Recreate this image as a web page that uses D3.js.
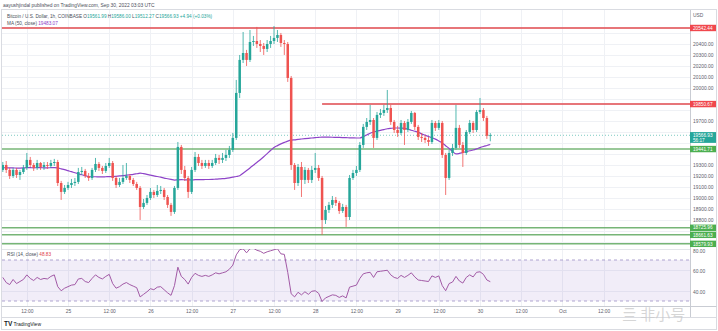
<!DOCTYPE html>
<html><head><meta charset="utf-8">
<script src="https://cdn.jsdelivr.net/npm/d3@7"></script>
<style>
body{margin:0;background:#fff;}
svg{display:block;font-family:"Liberation Sans",Arial,sans-serif;}
</style>
</head><body>
<svg id="c" width="718" height="331"></svg>
<script>
// ---------------- DATA ----------------
const firstCandle = "2022-09-24T05:00:00Z";   // hourly candles
const lastCandle  = "2022-09-30T03:00:00Z";

const opens = [19252,19297,19252,19197,19252,19206,19233,19270,19343,19297,
 19270,19315,19279,19297,19288,19315,19324,19133,19052,19088,
 19115,19133,19143,19233,19243,19197,19179,19252,19306,19270,
 19243,19288,19315,19179,19115,19143,19179,19197,19161,19124,
 19088,18915,18952,18997,19052,19024,19061,19070,19006,18934,
 18870,19088,19461,19252,19179,19052,19252,19370,19315,19288,
 19315,19288,19315,19361,19343,19361,19388,19434,19543,19952,
 20252,20315,20252,20415,20424,20397,20379,20352,20397,20424,
 20452,20479,20406,20397,20088,19297,19133,19279,19161,19252,
 19161,19252,19270,19179,18797,18888,18934,18979,18952,18879,
 18915,18824,19179,19224,19252,19479,19643,19688,19706,19543,
 19752,19770,19797,19815,19688,19615,19588,19679,19615,19688,
 19770,19643,19552,19543,19524,19506,19679,19634,19679,19388,
 19179,19406,19452,19634,19479,19406,19597,19679,19615,19779,
 19797,19724,19561.99];

const highs = [19324,19333,19270,19270,19270,19252,19297,19406,19370,19315,
 19343,19324,19324,19324,19343,19352,19343,19152,19115,19143,
 19170,19179,19270,19279,19261,19224,19270,19361,19324,19288,
 19315,19361,19333,19197,19179,19297,19315,19215,19179,19143,
 19106,18988,19024,19088,19070,19115,19106,19088,19024,18952,
 19106,19506,19479,19288,19197,19279,19415,19397,19343,19343,
 19343,19343,19397,19388,19406,19434,19470,19588,20070,20297,
 20506,20343,20524,20470,20552,20433,20406,20433,20470,20560,
 20524,20497,20433,20415,20106,19315,19306,19324,19279,19270,
 19288,19406,19297,19197,18924,18961,19015,19006,18970,18943,
 18934,19206,19252,19288,19506,19670,19724,19843,19724,19779,
 19806,19843,19979,19843,19706,19652,19706,19697,19715,19788,
 19779,19661,19588,19570,19552,19706,19697,19706,19697,19406,
 19434,19488,19843,19661,19506,19615,19706,19697,19797,19906,
 19815,19743,19586.00];

const lows = [19233,19224,19170,19179,19179,19161,19215,19252,19279,19243,
 19252,19252,19252,19261,19270,19288,19106,18979,19033,19070,
 19088,19106,19124,19206,19179,19152,19161,19233,19243,19215,
 19224,19270,19152,19088,19097,19124,19161,19133,19106,19070,
 18797,18897,18934,18979,18997,19006,19033,18979,18906,18834,
 18852,19070,19215,19152,18997,19033,19233,19288,19261,19270,
 19261,19270,19297,19306,19315,19333,19361,19415,19524,19906,
 20224,20197,20233,20379,20361,20324,20297,20324,20361,20397,
 20415,20370,20297,20052,19252,19070,19106,19006,19124,19133,
 19133,19224,19152,18662,18761,18861,18906,18924,18852,18861,
 18734,18797,19161,19197,19233,19452,19615,19661,19452,19524,
 19724,19743,19770,19661,19588,19552,19570,19479,19597,19670,
 19615,19524,19506,19497,19470,19488,19606,19615,19361,19024,
 19161,19379,19434,19452,19279,19388,19579,19588,19597,19761,
 19697,19534,19512.27];

const closes = [19297,19252,19197,19252,19206,19233,19270,19343,19297,19270,
 19315,19279,19297,19288,19315,19324,19133,19052,19088,19115,
 19133,19143,19233,19243,19197,19179,19252,19306,19270,19243,
 19288,19315,19179,19115,19143,19179,19197,19161,19124,19088,
 18915,18952,18997,19052,19024,19061,19070,19006,18934,18870,
 19088,19461,19252,19179,19052,19252,19370,19315,19288,19315,
 19288,19315,19361,19343,19361,19388,19434,19543,19952,20252,
 20315,20252,20415,20424,20397,20379,20352,20397,20424,20452,
 20479,20406,20397,20088,19297,19133,19279,19161,19252,19161,
 19252,19270,19179,18797,18888,18934,18979,18952,18879,18915,
 18824,19179,19224,19252,19479,19643,19688,19706,19543,19752,
 19770,19797,19815,19688,19615,19588,19679,19615,19688,19770,
 19643,19552,19543,19524,19506,19679,19634,19679,19388,19179,
 19406,19452,19634,19479,19406,19597,19679,19615,19779,19797,
 19724,19561.99,19566.93];

const ma50 = [19272,19271,19270,19270,19269,19269,19270,19272,19272,19271,
 19272,19272,19271,19271,19272,19273,19270,19262,19254,19245,
 19236,19226,19217,19208,19200,19192,19190,19190,19189,19189,
 19190,19191,19191,19194,19197,19200,19204,19208,19212,19217,
 19222,19218,19212,19205,19198,19192,19186,19178,19172,19166,
 19160,19162,19163,19162,19161,19161,19163,19164,19164,19165,
 19165,19166,19168,19170,19172,19175,19180,19186,19192,19199,
 19222,19246,19270,19295,19320,19345,19372,19400,19428,19455,
 19473,19489,19502,19514,19523,19526,19530,19533,19536,19539,
 19542,19545,19548,19551,19551,19550,19549,19548,19547,19546,
 19545,19544,19543,19542,19542,19555,19570,19585,19597,19605,
 19612,19619,19626,19630,19633,19633,19632,19630,19622,19613,
 19604,19594,19580,19568,19556,19545,19532,19515,19497,19472,
 19447,19420,19397,19402,19410,19418,19426,19433,19443,19455,
 19465,19474,19483.07];

const rsi14 = [53,48,46,51,47,49,51,55.5,52,50,
 53,51,52,51.5,54,55.5,44,40,42.5,44,
 45.5,46,51.5,52,49,48,52,55.5,53,51.5,
 54,56,47,42.5,44,46.5,48,46,44.5,43,
 34,36.5,39,42,41,43.5,44,41,38,35.5,
 45,63,54,51,46.5,53,57,55,54,55,
 54,55.5,57.5,56.5,57.5,58.5,61,65,75,80,
 81,77,81,81.5,79.5,78.5,76.5,78,79,80,
 81,76,75.5,58,37,34,38.5,36,39,36.5,
 39.5,40,37.5,29.5,33,34.5,36,35.5,33.5,35,
 33,43.5,44.5,45.5,52,56.5,57.5,58,53,58.5,
 59,59.5,60,55.5,53,52,55,53,55,57.5,
 53.5,50.5,50,49.5,49,54.5,53,54.5,45,40,
 47,48.5,54,49.5,47.5,53,55.5,53.5,58,58.5,
 56,50.5,48.83];

// drawn horizontal levels (value, colour kind, start time or null = full width)
const levelValues = [20542.44, 19850.67, 19441.71, 18725.96, 18661.63, 18579.93];
const levelKinds  = ["red", "red", "green", "green", "green", "green"];
const levelStarts = [null, "2022-09-28T02:00:00Z", null, null, null, null];

const priceTicks = [18600,18700,18800,18900,19000,19100,19200,19300,19400,19500,
                    19600,19700,19800,19900,20000,20100,20200,20300,20400,20500];
const rsiTicks = [40, 60, 80];
const rsiBand = [30, 70];
const xTickTimes = ["2022-09-24T12:00Z","2022-09-25T00:00Z","2022-09-25T12:00Z","2022-09-26T00:00Z",
  "2022-09-26T12:00Z","2022-09-27T00:00Z","2022-09-27T12:00Z","2022-09-28T00:00Z","2022-09-28T12:00Z",
  "2022-09-29T00:00Z","2022-09-29T12:00Z","2022-09-30T00:00Z","2022-09-30T12:00Z","2022-10-01T00:00Z",
  "2022-10-01T12:00Z"];
const xTickLabels = ["12:00","25","12:00","26","12:00","27","12:00","28","12:00","29","12:00","30","12:00","Oct","12:00"];
const countdown = "56:17";

// ---------------- CHART ----------------
const svg = d3.select("#c");
const C = {up:"#26a69a", down:"#ef5350", grid:"#eff1f5", text:"#5d606b", ma:"#8e44c8", rsi:"#a25aa6",
           red:"#e35d62", green:"#5fa85f", border:"#d9dbe1"};
const plotL = 2, plotR = 690, mainT = 10, mainB = 249, rsiB = 306, axisB = 317;
const FONT = "Liberation Sans, Arial, sans-serif";

const t0 = new Date(firstCandle), t1 = new Date(lastCandle);
const x = d3.scaleUtc().domain([t0, t1]).range([2.8, 490.3]);
const y = d3.scaleLinear().domain([18533, 20715]).range([249, 9]);
const yr = d3.scaleLinear().domain([26.1, 80.73]).range([305, 249]);

const candles = closes.map((c, i) => ({t: d3.utcHour.offset(t0, i), o: opens[i], h: highs[i], l: lows[i], c, ma: ma50[i], r: rsi14[i]}));
const last = candles[candles.length-1];

const defs = svg.append("defs");
defs.append("clipPath").attr("id","clipMain").append("rect").attr("x",plotL).attr("y",mainT).attr("width",plotR-plotL).attr("height",mainB-mainT);
defs.append("clipPath").attr("id","clipRsi").append("rect").attr("x",plotL).attr("y",mainB).attr("width",plotR-plotL).attr("height",rsiB-mainB);

// frame
svg.append("rect").attr("x",1.5).attr("y",9.5).attr("width",715).attr("height",320).attr("fill","#fff").attr("stroke",C.border);

// grid
const xTicks = xTickTimes.map(d => new Date(d));
svg.append("g").selectAll("line").data(xTicks).join("line")
  .attr("x1", d => Math.round(x(d))+0.5).attr("x2", d => Math.round(x(d))+0.5)
  .attr("y1", mainT).attr("y2", rsiB).attr("stroke", C.grid);
svg.append("g").selectAll("line").data(priceTicks).join("line")
  .attr("x1", plotL).attr("x2", plotR).attr("y1", d => Math.round(y(d))+0.5).attr("y2", d => Math.round(y(d))+0.5)
  .attr("stroke", C.grid);
svg.append("g").selectAll("line").data(rsiTicks.filter(d => yr(d) > mainB+2)).join("line")
  .attr("x1", plotL).attr("x2", plotR).attr("y1", d => Math.round(yr(d))+0.5).attr("y2", d => Math.round(yr(d))+0.5)
  .attr("stroke", C.grid);

// RSI band
svg.append("rect").attr("x",plotL).attr("width",plotR-plotL)
  .attr("y", yr(rsiBand[1])).attr("height", yr(rsiBand[0]) - yr(rsiBand[1]))
  .attr("fill","rgba(126,87,194,0.11)");
svg.append("g").selectAll("line").data(rsiBand).join("line")
  .attr("x1", plotL).attr("x2", plotR).attr("y1", d => yr(d)).attr("y2", d => yr(d))
  .attr("stroke","#9c8fc4").attr("stroke-dasharray","3,3").attr("stroke-width",0.8);

// panel separators
svg.append("line").attr("x1",plotL).attr("x2",plotR).attr("y1",mainB+0.5).attr("y2",mainB+0.5).attr("stroke","#e3e5ea");
svg.append("line").attr("x1",1.5).attr("x2",716.5).attr("y1",rsiB+0.5).attr("y2",rsiB+0.5).attr("stroke","#c9ccd3");
svg.append("line").attr("x1",1.5).attr("x2",716.5).attr("y1",axisB+0.5).attr("y2",axisB+0.5).attr("stroke",C.border);
svg.append("line").attr("x1",plotR+0.5).attr("x2",plotR+0.5).attr("y1",mainT).attr("y2",axisB).attr("stroke","#c9ccd3");

// main pane
const gMain = svg.append("g").attr("clip-path","url(#clipMain)");

const levels = levelValues.map((v,i) => ({v, kind: levelKinds[i], start: levelStarts[i] ? new Date(levelStarts[i]) : null}));
gMain.append("g").selectAll("line").data(levels).join("line")
  .attr("x1", d => d.start ? x(d.start) : plotL).attr("x2", plotR)
  .attr("y1", d => y(d.v)).attr("y2", d => y(d.v))
  .attr("stroke", d => d.kind === "red" ? C.red : C.green)
  .attr("stroke-width", d => d.kind === "red" ? 2 : 1.5)
  .attr("stroke-opacity", 0.85);

// current price line
gMain.append("line").attr("x1",plotL).attr("x2",plotR).attr("y1",y(last.c)).attr("y2",y(last.c))
  .attr("stroke",C.up).attr("stroke-dasharray","1,2").attr("stroke-opacity",0.6);

// MA
gMain.append("path").datum(candles)
  .attr("d", d3.line().x(d => x(d.t)).y(d => y(d.ma)).curve(d3.curveMonotoneX))
  .attr("fill","none").attr("stroke",C.ma).attr("stroke-width",1.2);

// candles
const bw = 2.5;
const gc = gMain.append("g");
gc.selectAll("line").data(candles).join("line")
  .attr("x1", d => x(d.t)).attr("x2", d => x(d.t))
  .attr("y1", d => y(d.h)).attr("y2", d => y(d.l))
  .attr("stroke", d => d.c >= d.o ? C.up : C.down).attr("stroke-width", 0.8);
gc.selectAll("rect").data(candles).join("rect")
  .attr("x", d => x(d.t) - bw/2).attr("width", bw)
  .attr("y", d => y(Math.max(d.o, d.c)))
  .attr("height", d => Math.max(0.8, Math.abs(y(d.o) - y(d.c))))
  .attr("fill", d => d.c >= d.o ? C.up : C.down);

// RSI pane
const gR = svg.append("g").attr("clip-path","url(#clipRsi)");
gR.append("path").datum(candles)
  .attr("d", d3.line().x(d => x(d.t)).y(d => yr(d.r)))
  .attr("fill","none").attr("stroke",C.rsi).attr("stroke-width",1);

// price label boxes (defined first so overlapping axis labels can be hidden, as TradingView does)
const fmt2 = d3.format(".2f");
const boxes = levels.map(d => ({v: d.v, fill: d.kind === "red" ? "#f0474d" : "#4caf50", lines: [fmt2(d.v)]}));
boxes.push({v: last.c, fill: C.up, lines: [fmt2(last.c), countdown]});
const boxSpan = b => [y(b.v) - 3.2, y(b.v) + (b.lines.length > 1 ? 7.6 : 3.2)];
const hidden = v => boxes.some(b => { const [a, z] = boxSpan(b); return y(v) + 2.8 > a && y(v) - 2.8 < z; });

// right price axis
const axR = svg.append("g").attr("transform",`translate(${plotR},0)`)
  .call(d3.axisRight(y).tickValues(priceTicks.filter(v => !hidden(v))).tickSize(0).tickPadding(3).tickFormat(fmt2));
axR.select(".domain").remove();
axR.selectAll("text").attr("font-size",4.9).attr("fill",C.text).attr("font-family",FONT);
const axRr = svg.append("g").attr("transform",`translate(${plotR},0)`)
  .call(d3.axisRight(yr).tickValues(rsiTicks).tickSize(0).tickPadding(3).tickFormat(fmt2));
axRr.select(".domain").remove();
axRr.selectAll("text").attr("font-size",4.9).attr("fill",C.text).attr("font-family",FONT).attr("dy","0.55em");
svg.append("text").attr("x",plotR+3).attr("y",16.5).attr("font-size",4.9).attr("fill",C.text).text("USD");

const gb = svg.append("g").selectAll("g").data(boxes).join("g")
  .attr("transform", d => `translate(${plotR},${y(d.v)})`);
gb.append("rect").attr("x",0).attr("width",26).attr("y",-3.2)
  .attr("height", d => d.lines.length > 1 ? 10.8 : 6.4).attr("fill", d => d.fill);
gb.each(function(d){
  d3.select(this).selectAll("text").data(d.lines).join("text")
    .attr("x",3).attr("y",(t,i) => 1.7 + i*5.1).attr("font-size",4.7).attr("fill","#fff").text(t => t);
});

// time axis
const axB = svg.append("g").attr("transform",`translate(0,${rsiB})`)
  .call(d3.axisBottom(x).tickValues(xTicks).tickSize(0).tickPadding(4)
    .tickFormat((d,i) => xTickLabels[i]));
axB.select(".domain").remove();
axB.selectAll("text").attr("font-size",4.9).attr("fill",C.text).attr("font-family",FONT);

// header texts
svg.append("text").attr("x",3).attr("y",6.5).attr("font-size",4.9).attr("fill","#4a4e59")
  .text("aayushjindal published on TradingView.com, Sep 30, 2022 03:03 UTC");
const chg = last.c - last.o;
const h2 = svg.append("text").attr("x",7).attr("y",18).attr("font-size",4.7).attr("fill","#4a4e59");
h2.append("tspan").text("Bitcoin / U.S. Dollar, 1h, COINBASE  ");
[["O",last.o],["H",last.h],["L",last.l],["C",last.c]].forEach(([k,v]) => {
  h2.append("tspan").text(k);
  h2.append("tspan").attr("fill",C.up).text(fmt2(v) + "  ");
});
h2.append("tspan").attr("fill",C.up).text(`+${fmt2(chg)} (+${fmt2(chg/last.o*100)}%)`);
const h3 = svg.append("text").attr("x",7).attr("y",24.8).attr("font-size",4.7).attr("fill","#4a4e59");
h3.append("tspan").text("MA (50, close)  ");
h3.append("tspan").attr("fill",C.ma).text(fmt2(last.ma));
const h4 = svg.append("text").attr("x",7).attr("y",255.8).attr("font-size",4.7).attr("fill","#4a4e59");
h4.append("tspan").text("RSI (14, close)  ");
h4.append("tspan").attr("fill","#e0404c").text(fmt2(last.r));

// TradingView logo
svg.append("text").attr("x",4).attr("y",326).attr("font-size",6.5).attr("font-weight","bold").attr("fill","#131722").text("TV");
svg.append("text").attr("x",13.5).attr("y",325.8).attr("font-size",5).attr("fill","#131722").text("TradingView");

// watermark
svg.append("text").attr("x",622).attr("y",320).attr("font-size",15).attr("fill","#c9c9c9").attr("fill-opacity",0.75)
  .attr("font-family","Noto Sans CJK SC").text("亖 非小号");
</script>
</body></html>
